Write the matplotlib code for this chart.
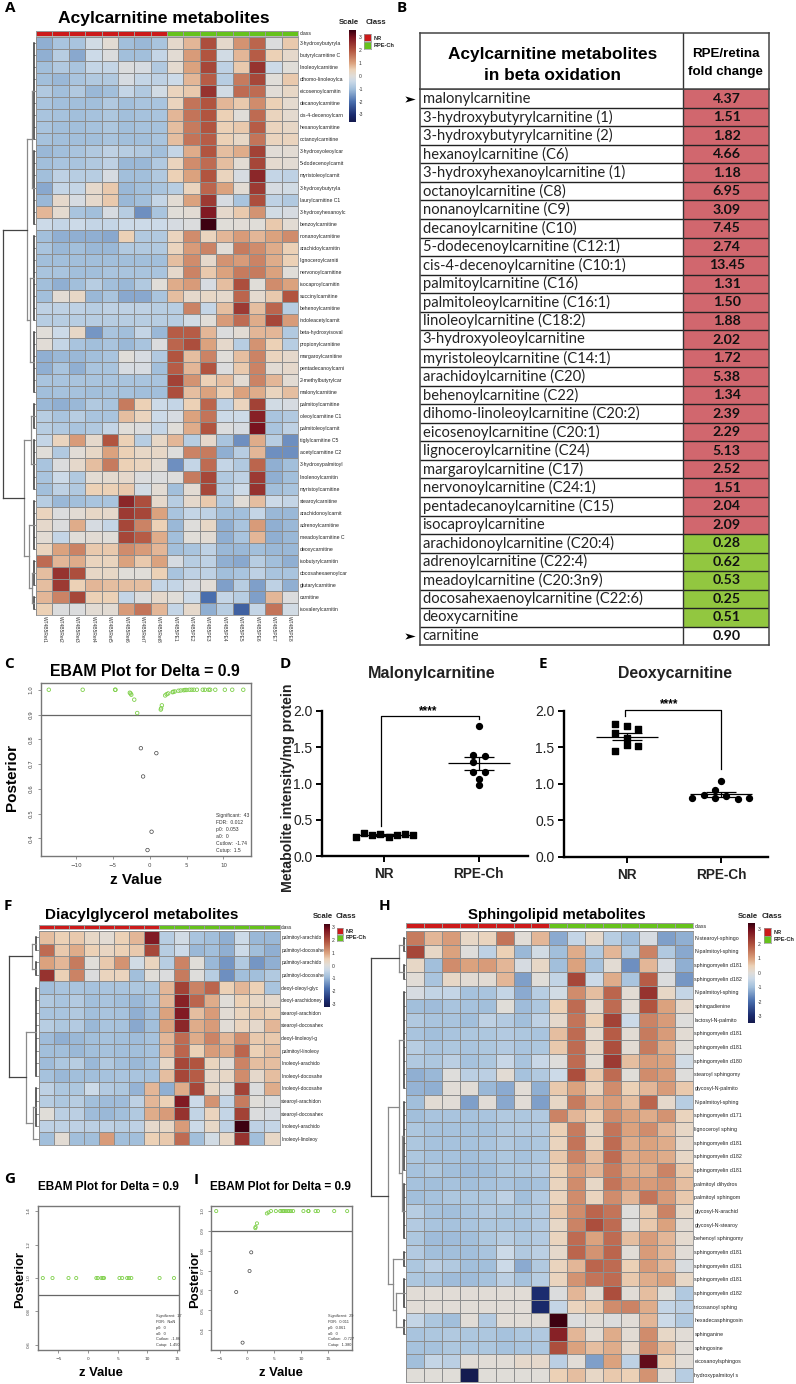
import numpy as np
import matplotlib
matplotlib.use("Agg")
import matplotlib.pyplot as plt
from matplotlib.colors import LinearSegmentedColormap, ListedColormap

W, H = 796, 1384
ARIAL = "Liberation Sans"
OPEN = "Open Sans"

# ---- panel A
acyl_labels = ["3-hydroxybutyryla", "butyrylcarnitine C", "linoleoylcarnitine", "dihomo-linoleoylca",
    "eicosenoylcarnitin", "decanoylcarnitine", "cis-4-decenoylcarn", "hexanoylcarnitine", "octanoylcarnitine",
    "3-hydroxyoleoylcar", "5-dodecenoylcarnit", "myristoleoylcarnit", "3-hydroxybutyryla", "laurylcarnitine C1",
    "3-hydroxyhexanoylc", "benzoylcarnitine", "nonanoylcarnitine", "arachidoylcarnitin", "lignoceroylcarniti",
    "nervonoylcarnitine", "isocaproylcarnitin", "succinylcarnitine", "behenoylcarnitine", "indoleacetylcarnit",
    "beta-hydroxyisoval", "propionylcarnitine", "margaroylcarnitine", "pentadecanoylcarni", "2-methylbutyrylcar",
    "malonylcarnitine", "palmitoylcarnitine", "oleoylcarnitine C1", "palmitoleoylcarnit", "tiglylcarnitine C5",
    "acetylcarnitine C2", "3-hydroxypalmitoyl", "linolenoylcarnitin", "myristoylcarnitine", "stearoylcarnitine",
    "arachidonoylcarnit", "adrenoylcarnitine", "meadoylcarnitine C", "deoxycarnitine", "isobutyrylcarnitin",
    "docosahexaenoylcar", "glutarylcarnitine", "carnitine", "isovalerylcarnitin"]
acyl_samples = ["WT4B5Ret1", "WT4B5Ret2", "WT4B5Ret3", "WT4B5Ret4", "WT4B5Ret5", "WT4B5Ret6", "WT4B5Ret7", "WT4B5Ret8",
    "WT4B5PE1", "WT4B5PE2", "WT4B5PE3", "WT4B5PE4", "WT4B5PE5", "WT4B5PE6", "WT4B5PE7", "WT4B5PE8"]
acyl_z = [
    [-1.2, -.9, -.9, -.3, .1, -1, -1.1, -.9, .2, .8, 2.1, .2, 1.2, 1.8, -.1, .6],
    [-1.2, -.7, -1.3, -.4, -.1, -1, -1, -.5, .1, 1.1, 2, -.3, .8, 1.9, .5, .2],
    [-1, -.8, -.9, -.5, -.5, -.1, -.2, -.8, .15, 1, 2.2, -.6, .6, 2.5, -.4, 0],
    [-1, -1.1, -.9, -.8, -.8, -.2, -.5, -.6, -.4, .8, 1.9, -.7, 1.5, 2.2, 0, .6],
    [-.8, -1, -.8, -1.1, -1, -.5, -.8, -.3, .4, .6, 2.5, -.3, 1.7, 1.7, .05, .3],
    [-.9, -1, -1, -1, -.8, -1, -.9, -.9, .4, 1.6, 2, .8, .6, 1.3, .5, .15],
    [-.9, -.95, -1, -.95, -.85, -1, -.95, -.9, .8, 1.6, 2, .5, 0, 1.7, .4, .15],
    [-.9, -1, -1, -.95, -.85, -1, -.95, -.95, .7, 1.5, 2, .5, .6, 1.9, .4, .3],
    [-.95, -1, -1, -1, -.9, -1, -1, -.9, .7, 1.6, 1.9, .5, .3, 1.6, .4, .4],
    [-1.1, -1, -.9, -.8, -.6, -.7, -.8, -1, -.5, .9, 2, .7, .9, 2.3, .05, .1],
    [-1, -.9, -.9, -.8, -.6, -1.1, -1.1, -.8, .4, 1.3, 1.7, .7, .1, 2.2, .15, .1],
    [-1, -.6, -.7, -.7, -.2, -1, -1, -.8, .5, 1, 2, .4, -.2, 2.7, -.5, -.6],
    [-1.3, -.5, -.5, .2, .6, -1.1, -1, -.9, -.7, .4, 1.8, 1, .1, 2.4, -.2, -.3],
    [-1.1, .2, -.2, .2, .6, -1.1, -1, -.5, .1, 1, 2.4, -.2, -.9, 2.1, -.6, -.8],
    [.8, .15, -.9, -1, -.2, -.7, -1.6, -.9, 0, .1, 2.9, .2, .6, 1.2, -.3, -.2],
    [-.4, -.5, -.4, -.5, -.5, -.4, -.4, -.4, -.2, -.1, 3.5, 0, .05, 0, .6, .1],
    [-1, -1.2, -1.2, -1.2, -1.3, .5, -.8, -.8, .4, 1.3, .4, .8, 1.1, .8, 1, 1.3],
    [-.9, -1.1, -1, -1.1, -1.1, -.8, -.8, -.8, .4, 1.1, 1.4, .05, 1.5, 1.3, .9, .5],
    [-1, -1, -1, -1, -1, -1, -1, -1, .7, 1.3, .2, 1.2, 1.1, 1.4, .9, .5],
    [-.9, -.9, -1, -1, -.9, -.9, -.9, -.9, .2, 1.4, .6, 1, 1.5, 1.5, 1, 0],
    [-1, -1.2, -1, -.7, -1, -1.1, -.8, 0, .9, 1.1, -.2, .7, 2.1, 0, 1.3, 1],
    [-1, .1, .3, -1.1, -.9, -1.3, -1.3, -.9, .7, .2, .3, .2, 1.8, .15, .6, 2],
    [-.6, -.6, -.6, -.7, -.6, -.6, -.6, -.7, -.7, 1.4, -.5, .7, 2.4, .7, 1.8, -.7],
    [-.7, -.7, -.7, -.7, -.7, -.7, -.7, -.7, -.7, -.3, 0, 1.1, 1.7, .9, 2.2, 1.1],
    [0, -.4, .3, -1.5, -.9, -1, -.5, -1.1, 1.9, 1.9, .8, -.1, .1, .8, .8, -.8],
    [.05, -.5, -.9, -1, -.9, -1.1, -.9, -.1, 1.8, 2.1, 1, .2, -.7, 1.2, .5, -.7],
    [-1.2, -1.1, -1.1, -1, -.9, 0, -.2, -.8, 2, .7, 1.4, 0, .7, 1.4, .4, .2],
    [-1.2, -.9, -1.2, -.9, -.9, -.2, -.2, -1, 1.9, .8, 2, -.1, .6, 1.4, .1, .2],
    [-.9, -.9, -.9, -.9, -.9, -.9, -.9, -.9, 2.3, 1.2, .5, .7, .1, 1.4, .8, .1],
    [-1, -.95, -.95, -1, -.95, -.95, -1, -1, 2.1, .7, 1, .5, 1, .9, .4, .7],
    [-1.1, -1.2, -1.1, -.8, -.9, 1.5, .5, -.4, -.5, .5, 1.8, -.6, .4, 2.3, -.3, -.2],
    [-.7, -.9, -.7, -.9, -.9, .7, .4, -.4, -.2, 1, 1.6, -.4, -.4, 2.8, -.9, -.8],
    [-.7, -.8, -.9, -.8, -.5, 0, -.1, -.5, 0, .9, 2, -.1, -.2, 3, -.9, -.6],
    [-.5, .4, 1.1, .2, 2, .5, -.7, .3, .8, -.7, .2, -.9, -1.6, .9, -.7, -1.6],
    [0, -.8, .05, .3, 1, .5, .3, .3, -.05, 1.4, 1.5, -1.2, -.7, .8, -1.6, -1.6],
    [-.9, -.1, .2, .7, 1.5, .5, .4, .1, -1.6, -.5, 1.7, -.5, -.8, 1.8, -1.2, -1],
    [-.9, -.4, -.8, .1, .15, .2, -.1, -.1, -.05, 1.5, 2.2, -.8, -.6, 2.4, -1.2, -1],
    [-1, -.6, -.8, .5, .5, .6, -.3, .1, -1, .1, 2.2, -.7, -.4, 2.5, -1, -.9],
    [-.7, -1.1, -1, -.9, -.9, 2.7, 2.1, .2, -.7, .2, .6, -.8, .05, .7, -.4, -.5],
    [.4, -.1, .1, .3, .2, 2.4, 2.2, 1, -.9, -.5, -.6, -1, -1, -.5, -1.1, -1.1],
    [.2, -.1, .9, -.2, -.5, 2.2, 1.4, .5, -1.1, -.05, .3, -1.2, -.9, 1.1, -1.2, -1.1],
    [.1, -.5, 0, .1, 0, 2.2, 1.9, .9, -1, 0, .1, -1.2, -.9, .8, -1.2, -1.1],
    [.4, 1, 1.4, .6, .6, 1.3, 1.1, .8, -1, -.9, -.6, -1.1, -1.1, -1, -1.1, -1.1],
    [1.7, .8, .9, .4, .4, 1, .6, 1, -.2, -.7, -.6, -1.2, -1.3, -.7, -1, -1.2],
    [.7, 2.5, 2.1, .3, .3, 0, 0, .5, -.9, -.6, -.6, -1, -.9, -.6, -.9, -.9],
    [.7, 2.4, .5, .8, .7, .7, .7, -.5, -.5, -.2, .05, -1.4, -.7, -1.4, -.6, -1.2],
    [.8, 1.4, 2.2, .5, .5, -.5, -.1, .2, 0, -.4, -2, -.5, -.7, -1.4, .8, -.1],
    [.5, -.1, -.1, .1, .1, 1.1, 1.6, .8, -.5, .2, -1.2, -.7, -2.2, -.5, 1.6, -.3],
]

# ---- panel F
dag_labels = ["palmitoyl-arachido", "palmitoyl-docosahe", "palmitoyl-arachido", "palmitoyl-docosahe",
    "oleoyl-oleoyl-glyc", "oleoyl-arachidoney", "stearoyl-arachidon", "stearoyl-docosahex", "oleoyl-linoleoyl-g",
    "palmitoyl-linoleoy", "linoleoyl-arachido", "linoleoyl-docosahe", "linoleoyl-docosahe", "stearoyl-arachidon",
    "stearoyl-docosahex", "linoleoyl-arachido", "linoleoyl-linoleoy"]
dag_z = [
    [.7, .5, .6, .3, .1, .5, .8, 2.9, -.7, -.3, -.9, -1, -1.2, -.4, -1.1, -1.1],
    [1.7, .6, .9, .5, .35, .5, .6, 2.2, -.7, -.4, -1.1, -1, -1.2, -.4, -1, -1.2],
    [1, .8, 1.5, 0, .6, 1.2, -.3, .4, -.7, 1.4, 0, -1.1, -1.5, -.8, -1.5, -1.2],
    [2.5, .5, 1.4, -.1, .4, .4, -1, 0, -.1, 1.5, -.05, -.7, -1.6, -1, -1, -.8],
    [-1, -.9, -.9, -.95, -.9, -.9, -.85, -.85, .8, 2.3, 1.4, 1.8, .5, .8, .5, -.9],
    [-.8, -.9, -.75, -1, -.9, -1, -1.1, -.9, .8, 2.8, 1.8, .9, 0, .5, .3, .2],
    [-.9, -.9, -.8, -1, -.9, -.95, -1.2, -1, 1, 2.9, .7, 1.1, .1, .4, .6, .5],
    [-.7, -.85, -.75, -1.1, -.9, -.95, -1.3, -1, 1, 2.7, .9, 1.1, .05, .4, .2, .8],
    [-1.05, -1.2, -1.1, -1, -.95, -1, -1.05, -.95, .8, 1.7, .9, 1.4, .8, 1.3, .6, .6],
    [-1, -1, -1.1, -1, -.95, -1, -1, -.95, .8, 1.8, .5, 1.1, .9, 1.8, .5, .7],
    [-1.05, -.85, -.7, -1.1, -.8, -1, -1.1, -.95, .3, 2.2, 2, .4, .05, 1.4, .7, .7],
    [-.95, -1.1, -1, -1, -.95, -.9, -.9, -.95, .7, 2.2, 1.9, .2, .3, 1.3, .2, .7],
    [-.6, -.85, -.85, -.4, -.75, -.85, -1.15, .8, -1.2, .9, 2.2, .3, -.1, 2.3, -.1, .9],
    [-.7, -.85, -.7, -1, -1.05, -1.05, -.6, .8, .5, 2.9, -.4, 1.2, -.5, 1.5, 0, -.1],
    [0, -.65, -.65, -1.05, -1.1, -1, -.8, .9, 1.1, 2.5, -.55, .4, -.5, 2.3, -.1, -.2],
    [-.6, -.6, -.6, -.65, -.6, -.7, -.6, .2, .3, 1.1, -.4, .3, -.6, 3.5, -.6, -.5],
    [-1, .1, -1, -1, 1.1, -1, -1, .5, .6, 1.7, -1, -.3, .3, 2.5, -1, .3],
]

# ---- panel H
sph_labels = ["N-stearoyl-sphingo", "N-palmitoyl-sphing", "sphingomyelin d181", "sphingomyelin d182", "N-palmitoyl-sphing",
    "sphingadienine", "lactosyl-N-palmito", "sphingomyelin d181", "sphingomyelin d181", "sphingomyelin d180",
    "stearoyl sphingomy", "glycosyl-N-palmito", "N-palmitoyl-sphing", "sphingomyelin d171", "lignoceroyl sphing",
    "sphingomyelin d181", "sphingomyelin d182", "sphingomyelin d181", "palmitoyl dihydros", "palmitoyl sphingom",
    "glycosyl-N-arachid", "glycosyl-N-stearoy", "behenoyl sphingomy", "sphingomyelin d181", "sphingomyelin d181",
    "sphingomyelin d181", "sphingomyelin d182", "tricosanoyl sphing", "hexadecasphingosin", "sphinganine",
    "sphingosine", "eicosanoylsphingos", "hydroxypalmitoyl s"]
sph_z = [
    [1.5, .8, 1.1, .3, .4, 1.6, .05, .8, -1.25, -.5, .2, -.7, -1.05, -.2, -1.4, -1.2],
    [2.2, .3, 1, -.05, -.6, .5, -1.1, -.3, -1, .9, -.8, .8, -.8, 1.4, -.8, -1.3],
    [.3, -1, 1.3, 1, 1.1, .8, -.2, .3, -1, 1, -.95, .1, -1.6, .8, -.2, -1.2],
    [.05, -.9, .3, .1, .1, .8, -1.4, 0, -.55, 2.2, -.4, .9, -.9, 1.9, -.1, -1.5],
    [-.2, -.55, -.5, -.95, -.9, -.5, -1.25, -.7, -.3, 1.3, .7, 1.8, .1, 2.5, .3, -.5],
    [-1, -1.05, -.9, -.95, -1, 0, -1.05, -.85, .5, 1.7, .15, 1.7, .1, 2, 1, .2],
    [-.8, -.9, -.9, -1, -.6, -.75, -1, -.6, .2, 1.6, .5, 2.3, -.4, 1.4, 1.1, -.05],
    [-.9, -1, -.9, -.85, -.85, -.75, -.85, -.9, .7, 1.7, .15, 1.9, .1, 1.5, 1.1, .1],
    [-.7, -.9, -.85, -.9, -.85, -.75, -.9, -.85, .6, 1.7, .3, 2.1, .1, 1.5, .9, 0],
    [-.8, -.85, -.65, -.95, -.85, -.45, -.9, -.45, -.05, 1.7, .1, 2.4, .7, 1.1, 1, -.3],
    [-1.2, -1.1, -.05, -.65, -.65, .1, -.95, -.8, -.4, 2.1, .6, 1.7, 0, 1.3, 1.1, -.05],
    [-1.15, -1.2, .05, .05, -1.1, -1.25, .05, -1.2, .6, 1, .4, 1.3, .5, .8, 1.1, .6],
    [-1, .1, .05, -1.4, .05, -1.3, .05, -1.4, .3, 1.5, .8, 1.1, .7, 1.8, .2, -.7],
    [-1, -.9, -.9, -.95, -.9, -.8, -.85, -.8, 1.4, .8, .5, 1.3, 1, .9, 1.2, .4],
    [-.85, -.95, -.95, -.95, -.95, -.8, -.8, -.8, .5, 1.5, .3, 1.6, 1, 1.3, .8, .3],
    [-.85, -.95, -.95, -.95, -.9, -.8, -.9, -.85, .4, 1.6, .4, 1.7, .9, 1, .9, .2],
    [-.85, -.95, -.95, -1, -.95, -.85, -.95, -.85, .6, 1.4, .7, 1.7, .9, 1, .9, .3],
    [-.95, -.85, -1, -1.05, -1, -.85, -.85, -.75, .5, 1.1, .8, 1.5, .9, .9, 1.4, .6],
    [-.95, -1, -.95, -1, -.95, -.9, -1, -.95, .4, 1.3, .3, 1.6, 1.1, 1.1, 1.2, .7],
    [-1, -.95, -.85, -.85, -.85, -.6, -1, -.75, .4, 1.3, .4, 1.3, .8, 1.6, 1.1, .6],
    [-.7, -.95, -1, -.9, -.75, -.85, -.85, -.75, .6, 1.3, 1.8, 1.6, -.05, .6, 1.4, .3],
    [-.75, -.9, -.95, -.9, -.85, -.85, -.9, -.75, .3, 1.4, 2.1, 1.7, -.05, .6, 1, .1],
    [-.85, -1.05, -1.05, -1, -.85, -.7, -.85, -.75, .4, 1.7, 1, 1.7, .7, 1.1, .8, .15],
    [-.75, -1, -1, -1, -.9, -.4, -.8, -.65, .2, 1.8, 1.2, 1.8, .05, 1.1, .8, .05],
    [-.85, -.65, -.8, -1, -1, -.4, -1.25, -.8, .4, .8, 1.8, 1.7, .5, 1.1, .8, -.15],
    [-.85, -.9, -1.05, -1.05, -.95, -.65, -.95, -.7, .4, 1.2, 1.6, 1.7, .6, .9, 1, .3],
    [.05, .05, .05, .05, .05, .05, .05, -3, -.1, .8, .1, 2.1, .05, .7, 0, -.8],
    [.05, .05, .05, .05, .05, .05, .05, -3.1, -.5, .4, .6, 1.3, 1.4, .9, -.5, -.65],
    [-.5, -.85, -1, .05, -.75, .05, .05, .05, 3.5, -.1, .05, -.1, .05, .8, -.4, -.8],
    [-.9, -.85, -.8, -.85, -.85, -.95, -.85, -.8, 2.8, .8, .1, .9, .1, 1.3, .3, .05],
    [-.95, -.95, -.85, -.85, -.85, -.95, -.9, -.85, 2.1, 1, .7, .9, .2, 1.3, .7, .05],
    [-1, -.5, -.65, .05, .05, .05, .2, .2, -.65, .05, -1.4, 1, -.6, 3.2, .5, .05],
    [0, 0, 0, -3.5, 0, 0, 0, 0, .5, .7, .3, .6, .5, 1.2, .1, -.7],
]

# dendrograms: [x of the join in pixels, child, child], an int is a clump of leaves
acyl_tree = [3.5, [27, [32, 9, 7], [30, [33, 8, 0], [33, 6, 0]]], [24, [31.5, 3, 5], [29, [33, 5, 0], [32, 3, 2]]]]
dag_tree = [9, [32, 2, 2], [26, [34.5, 8, 0], [33, 4, 1]]]
sph_tree = [371, [399, 2, 2], [387.7, [399, [402, 8, 0], [402, 6, 5]], [392.7, 2, [396, 3, 2]]]]

# ---- panel B
table_names = ["malonylcarnitine", "3-hydroxybutyrylcarnitine (1)", "3-hydroxybutyrylcarnitine (2)", "hexanoylcarnitine (C6)",
    "3-hydroxyhexanoylcarnitine (1)", "octanoylcarnitine (C8)", "nonanoylcarnitine (C9)", "decanoylcarnitine (C10)",
    "5-dodecenoylcarnitine (C12:1)", "cis-4-decenoylcarnitine (C10:1)", "palmitoylcarnitine (C16)",
    "palmitoleoylcarnitine (C16:1)", "linoleoylcarnitine (C18:2)", "3-hydroxyoleoylcarnitine", "myristoleoylcarnitine (C14:1)",
    "arachidoylcarnitine (C20)", "behenoylcarnitine (C22)", "dihomo-linoleoylcarnitine (C20:2)", "eicosenoylcarnitine (C20:1)",
    "lignoceroylcarnitine (C24)", "margaroylcarnitine (C17)", "nervonoylcarnitine (C24:1)", "pentadecanoylcarnitine (C15)",
    "isocaproylcarnitine", "arachidonoylcarnitine (C20:4)", "adrenoylcarnitine (C22:4)", "meadoylcarnitine (C20:3n9)",
    "docosahexaenoylcarnitine (C22:6)", "deoxycarnitine", "carnitine"]
table_fold = ["4.37", "1.51", "1.82", "4.66", "1.18", "6.95", "3.09", "7.45", "2.74", "13.45", "1.31", "1.50", "1.88", "2.02",
    "1.72", "5.38", "1.34", "2.39", "2.29", "5.13", "2.52", "1.51", "2.04", "2.09", "0.28", "0.62", "0.53", "0.25", "0.51", "0.90"]
table_arrows = [0, 29]

# ---- EBAM panels
c_green_x = [-13.7, -9.1, -4.7, -4.65, -2.7, -2.6, -2.5, -2.1, -1.7, 1.5, 1.55, 1.65, 2.1, 2.3, 2.5, 3.1, 3.2, 3.4, 3.9, 4.2,
    4.6, 4.8, 5, 5.4, 5.7, 6, 6.4, 7.2, 7.5, 8, 8.2, 8.9, 10.2, 11.2, 12.7]
c_green_y = [1, 1, 1, 1, .988, .985, .98, .96, .906, .92, .925, .937, .977, .982, .985, .99, .992, .993, .996, .997,
    .998, .999, .999, 1, 1, 1, 1, 1, 1, 1, 1, 1, 1, 1, 1]
c_black_x = [-1.2, .9, -.9, .25, -.3]
c_black_y = [.764, .744, .65, .427, .353]
c_stats = ["Significant:  43", "FDR:  0.012", "p0:  0.053", "a0:  0", "Cutlow:  -1.74", "Cutup:  1.5"]

g_green_x = [-7.64, -6, -3.3, -2, 1.4, 1.65, 2.27, 2.5, 2.7, 5.3, 5.76, 6.6, 6.9, 7.3, 12.07, 14.5]
g_green_y = [1] * 16
g_black_x = []
g_black_y = []
g_stats = ["Significant:  17", "FDR:  NaN", "p0:  0", "a0:  0", "Cutlow:  -1.86", "Cutup:  1.450"]

i_green_x = [-5.74, 1.5, 1.55, 1.8, 3.64, 3.95, 4.4, 5.3, 6.1, 6.36, 6.67, 6.85, 7.16, 7.5, 7.8, 8.1, 8.5, 10.4, 11.3, 11.35,
    12.65, 13.1, 16.1, 18.5]
i_green_y = [1, .914, .92, .938, .988, .993, 1, 1, 1, 1, 1, 1, 1, 1, 1, 1, 1, 1, 1, 1, 1, 1, 1, 1]
i_black_x = [.74, .43, -2.04, -.86]
i_black_y = [.792, .698, .592, .337]
i_stats = ["Significant:  29", "FDR:  0.011", "p0:  0.061", "a0:  0", "Cutlow:  -0.727", "Cutup:  1.380"]

# ---- scatter panels D, E (x is an offset from the group position)
d_nr_off = [-.30, -.215, -.127, -.042, .046, .131, .219, .30]
d_nr_y = [.27, .325, .288, .307, .26, .29, .30, .29]
d_rpe_off = [0, -.06, .064, -.06, -.06, .064, 0, 0]
d_rpe_y = [1.786, 1.387, 1.373, 1.30, 1.16, 1.16, 1.066, .983]
d_means = [.29, 1.277]
d_err = [.012, .089]

e_nr_off = [-.124, 0, -.124, .124, 0, 0, .124, -.124]
e_nr_y = [1.82, 1.80, 1.70, 1.75, 1.625, 1.534, 1.516, 1.457]
e_rpe_off = [-.004, -.064, -.184, -.304, -.064, .056, .177, .297]
e_rpe_y = [1.045, .918, .845, .804, .804, .836, .79, .813]
e_means = [1.65, .858]
e_err = [.05, .03]

z_nodes = [-3.55, -3, -2, -1, -.4, 0, .5, 1, 2, 3, 3.55]
z_colors = ["#141a4e", "#1c2d70", "#4a6fae", "#a3c0dc", "#ccdae8", "#e0ddd9", "#ecd2b8", "#dca37f", "#b25540", "#7c1420", "#3a0010"]
cmap = LinearSegmentedColormap.from_list("scale", [((v + 3.55) / 7.1, c) for v, c in zip(z_nodes, z_colors)])
GREEN = "#66c21c"
RED = "#cc1a1a"

fig = plt.figure(figsize=(W / 100, H / 100), dpi=100)
fig.patch.set_facecolor("white")


def pax(l, t, r, b):
    return fig.add_axes([l / W, 1 - b / H, (r - l) / W, (b - t) / H])


def txt(x, y, s, size=8, weight="normal", family=ARIAL, ha="center", va="center", color="black", rotation=0):
    fig.text(x / W, 1 - y / H, s, fontsize=size, fontweight=weight, family=family, ha=ha, va=va, color=color, rotation=rotation)


def draw_tree(ax, node, rows, right):
    # returns (x, y) of the node, rows is a one item list used as a counter
    if isinstance(node, int):
        top = rows[0]
        rows[0] += node
        y = top + node / 2
        if node == 0:
            return None
        x0 = right - 2.2
        for i in range(node):
            ax.plot([x0, right], [top + i + .5, top + i + .5], color="#666666", lw=.5)
        if node > 1:
            ax.plot([x0, x0], [top + .5, top + node - .5], color="#333333", lw=1.1)
        return x0, y
    kids = [draw_tree(ax, k, rows, right) for k in node[1:]]
    kids = [k for k in kids if k is not None]
    if len(kids) == 1:
        return kids[0]
    x = node[0]
    shade = "#444444" if x < right - 20 else "#8a8a8a"
    ax.plot([x, x], [kids[0][1], kids[1][1]], color=shade, lw=.9)
    for kx, ky in kids:
        ax.plot([x, kx], [ky, ky], color=shade, lw=.9)
    return x, (kids[0][1] + kids[1][1]) / 2


def heatmap(z, labels, box, class_box, tree, tree_left, cbar, legend, label_size):
    l, t, r, b = box
    ax = pax(l, t, r, b)
    ax.pcolormesh(np.array(z), cmap=cmap, vmin=-3.55, vmax=3.55, edgecolors="#8e8e8e", linewidth=.6)
    ax.set_ylim(len(z), 0)
    ax.set_xticks([])
    ax.yaxis.tick_right()
    ax.set_yticks(np.arange(len(z)) + .5)
    ax.set_yticklabels(labels, fontsize=label_size, family=ARIAL, color="#222222")
    ax.tick_params(axis="y", length=0, pad=1.2)
    for s in ax.spines.values():
        s.set_color("#8e8e8e")
        s.set_linewidth(.6)

    cax = pax(l, class_box[0], r, class_box[1])
    cax.pcolormesh(np.array([[0] * 8 + [1] * 8]), cmap=ListedColormap([RED, GREEN]), edgecolors="#999999", linewidth=.5)
    cax.set_xticks([])
    cax.yaxis.tick_right()
    cax.set_yticks([.5])
    cax.set_yticklabels(["class"], fontsize=label_size, family=ARIAL, color="#222222")
    cax.tick_params(axis="y", length=0, pad=1.2)
    for s in cax.spines.values():
        s.set_color("#999999")
        s.set_linewidth(.5)

    dax = pax(tree_left, t, l, b)
    dax.set_xlim(tree_left, l)
    dax.set_ylim(len(z), 0)
    dax.axis("off")
    draw_tree(dax, tree, [0], l)

    # colour key
    cl, ct, cr, cb, zero, step, tick_x = cbar
    kax = pax(cl, ct, cr, cb)
    grad = np.linspace(3.55, -3.55, 200).reshape(-1, 1)
    kax.imshow(grad, cmap=cmap, vmin=-3.55, vmax=3.55, aspect="auto", extent=[0, 1, -3.55, 3.55])
    kax.axis("off")
    for v in [3, 2, 1, 0, -1, -2, -3]:
        txt(tick_x, zero - v * step, str(v), size=3.6, color="#333333", ha="left")
    sx, sy1, sy2, sy3, sw = legend
    for i, (name, col) in enumerate([("NR", RED), ("RPE-Ch", GREEN)]):
        top = [sy1, sy2][i]
        sax = pax(sx, top, sx + sw, top + (sy2 - sy1) - .4)
        sax.set_facecolor(col)
        sax.set_xticks([])
        sax.set_yticks([])
        for s in sax.spines.values():
            s.set_color("#999999")
            s.set_linewidth(.5)
        txt(sx + sw + 2.5, top + (sy2 - sy1) / 2, name, size=4.1, weight="bold", ha="left", color="#222222")


heatmap(acyl_z, acyl_labels, (36, 37, 298, 615), (30.5, 35.5), acyl_tree, 2, (349.3, 30, 355.7, 121.7, 76.1, 12.95, 358.5),
        (363.7, 34.3, 41.7, 49, 7.3), 3.7)
heatmap(dag_z, dag_labels, (38.5, 931, 279.5, 1145), (924.7, 929.3), dag_tree, 7, (323.7, 924, 329.3, 1007.3, 966, 12.67, 331.8),
        (336.7, 928.3, 934.7, 941, 6), 3.5)
heatmap(sph_z, sph_labels, (406, 931, 692.7, 1381.7), (923.3, 928), sph_tree, 369, (748.3, 923.3, 755, 1023.3, 973.2, 14.6, 758),
        (763.7, 928.3, 936, 943.3, 7.3), 3.8)

for i, s in enumerate(acyl_samples):
    txt(36 + (i + .5) * 262 / 16, 629, s, size=3.5, rotation=-90, color="#333333")

txt(164, 19, "Acylcarnitine metabolites", size=12.6, weight="bold")
txt(142, 915, "Diacylglycerol metabolites", size=11, weight="bold")
txt(557, 915, "Sphingolipid metabolites", size=10.8, weight="bold")
for x, y, s in [(349, 23, "Scale"), (375.7, 23, "Class"), (323, 916, "Scale"), (345.7, 916, "Class"), (748, 917, "Scale"), (772.3, 917, "Class")]:
    txt(x, y, s, size=5.6, weight="bold", color="#222222")

# table
tab = pax(420, 89.3, 769, 645.3)
n_rows = len(table_names)
split = (683.3 - 420) / (769 - 420)
for i in range(n_rows):
    if i < 24:
        cell = "#d1676e"
    elif i < 29:
        cell = "#92c740"
    else:
        cell = "white"
    tab.barh(i + .5, 1 - split, left=split, height=1, color=cell, edgecolor="none")
tab.set_xlim(0, 1)
tab.set_ylim(n_rows, 0)
tab.hlines(np.arange(1, n_rows), 0, 1, color="#222222", lw=1)
tab.vlines([split], 0, n_rows, color="#333333", lw=1)
tab.set_xticks([])
tab.set_yticks([])
for s in tab.spines.values():
    s.set_color("#444444")
    s.set_linewidth(1.1)
for i, (name, val) in enumerate(zip(table_names, table_fold)):
    tab.text(.0075, i + .5, name, fontsize=10.6, family="Lato", va="center", ha="left", color="#222222")
    tab.text((726.7 - 420) / 349, i + .5, val, fontsize=10.2, family="Lato", weight="bold", va="center", ha="center", color="#111111")
arrow = [(-1, .6), (1, 0), (-1, -.6), (-.5, 0)]
tab.scatter([-.03] * len(table_arrows), np.array(table_arrows) + .5, marker=arrow, s=55, color="black", clip_on=False, linewidths=0)

head = pax(420, 33.3, 769, 89.3)
head.set_xticks([])
head.set_yticks([])
head.axvline(split, color="#333333", lw=1)
for s in head.spines.values():
    s.set_color("#444444")
    s.set_linewidth(1.1)
txt(553, 54, "Acylcarnitine metabolites", size=12.4, weight="bold")
txt(553, 75, "in beta oxidation", size=12.4, weight="bold")
txt(725.7, 54, "RPE/retina", size=9.6, weight="bold")
txt(725.7, 72, "fold change", size=9.6, weight="bold")


def ebam(box, xlim, ylim, xticks, yticks, gx, gy, kx, ky, stats, stat_x, stat_y, stat_step, fs):
    ax = pax(*box)
    ax.scatter(gx, gy, s=fs * 1.6, facecolors="none", edgecolors="#7fd04a", linewidths=.6, zorder=3)
    if kx:
        ax.scatter(kx, ky, s=fs * 1.6, facecolors="none", edgecolors="#444444", linewidths=.5, zorder=3)
    ax.axhline(.9, color="#666666", lw=.9)
    ax.set_xlim(xlim)
    ax.set_ylim(ylim)
    ax.set_xticks(xticks)
    ax.set_yticks(yticks)
    ax.set_yticklabels(["%.1f" % v for v in yticks], rotation=90, va="center")
    ax.tick_params(labelsize=fs, length=2, width=.4, colors="#444444", pad=3)
    for s in ax.spines.values():
        s.set_color("#777777")
        s.set_linewidth(1)
    for i, s in enumerate(stats):
        txt(stat_x, stat_y + i * stat_step, s, size=fs - .4, ha="left", color="#333333")


ebam((40.7, 683.3, 251, 856), (-14.8, 13.75), (.329, 1.026), [-10, -5, 0, 5, 10], [.4, .5, .6, .7, .8, .9, 1.0],
     c_green_x, c_green_y, c_black_x, c_black_y, c_stats, 216.5, 815.5, 7, 4)
ebam((37.7, 1205.7, 179.3, 1350), (-8.5, 15.4), (.57, 1.432), [-5, 0, 5, 10, 15], [.6, .8, 1.0, 1.2, 1.4],
     g_green_x, g_green_y, g_black_x, g_black_y, g_stats, 156, 1316, 5.85, 3.2)
ebam((211.3, 1205.7, 352.3, 1350), (-6.65, 19.45), (.3, 1.027), [-5, 0, 5, 10, 15], [.4, .5, .6, .7, .8, .9, 1.0],
     i_green_x, i_green_y, i_black_x, i_black_y, i_stats, 328.5, 1316, 5.85, 3.2)

txt(144.5, 671.5, "EBAM Plot for Delta = 0.9", size=11.4, weight="bold")
txt(108, 1187.5, "EBAM Plot for Delta = 0.9", size=8.5, weight="bold")
txt(280, 1187.5, "EBAM Plot for Delta = 0.9", size=8.5, weight="bold")
txt(135.7, 880, "z Value", size=11, weight="bold")
txt(101, 1373, "z Value", size=9.4, weight="bold")
txt(281, 1373, "z Value", size=9.4, weight="bold")
txt(12.3, 777.7, "Posterior", size=11, weight="bold", rotation=90)
txt(20, 1280, "Posterior", size=9.4, weight="bold", rotation=90)
txt(195, 1280, "Posterior", size=9.4, weight="bold", rotation=90)


def dots(box, xlim, nr_off, nr_y, rpe_off, rpe_y, means, errs, bracket, star):
    ax = pax(*box)
    ax.scatter(1 + np.array(nr_off), nr_y, marker="s", s=16, color="black", zorder=3, clip_on=False)
    ax.scatter(2 + np.array(rpe_off), rpe_y, marker="o", s=18, color="black", zorder=3)
    for x, m, e in zip([1, 2], means, errs):
        ax.hlines(m, x - .33, x + .33, color="black", lw=.9, zorder=4)
        ax.errorbar(x, m, yerr=e, color="black", lw=.9, capsize=11, capthick=.9, zorder=4)
    ax.plot(bracket[0], bracket[1], color="black", lw=.9, clip_on=False)
    ax.text(star[0], star[1], "****", fontsize=8.5, weight="bold", family=ARIAL, ha="center", va="center")
    ax.set_xlim(xlim)
    ax.set_ylim(0, 2)
    ax.set_xticks([1, 2])
    ax.set_xticklabels(["NR", "RPE-Ch"], fontsize=9.8, weight="bold", family=ARIAL, color="#222222")
    ax.set_yticks([0, .5, 1, 1.5, 2])
    ax.set_yticklabels(["0.0", "0.5", "1.0", "1.5", "2.0"], fontsize=10, family=ARIAL, color="#222222")
    ax.tick_params(width=1.4, length=4, pad=3)
    ax.tick_params(axis="x", pad=4)
    ax.spines["top"].set_visible(False)
    ax.spines["right"].set_visible(False)
    ax.spines["left"].set_linewidth(1.7)
    ax.spines["bottom"].set_linewidth(1.7)
    ax.patch.set_alpha(0)


dots((322.3, 710.7, 527.7, 856.3), (.343, 2.519), d_nr_off, d_nr_y, d_rpe_off, d_rpe_y, d_means, d_err,
     ([.97, .97, 2, 2], [.41, 1.93, 1.93, 1.886]), (1.46, 2.0))
dots((564, 711, 767.7, 857), (.335, 2.495), e_nr_off, e_nr_y, e_rpe_off, e_rpe_y, e_means, e_err,
     ([.98, .98, 2, 2], [1.936, 2.014, 2.014, 1.205]), (1.45, 2.09))

txt(432, 674, "Malonylcarnitine", size=11.6, weight="bold", color="#222222")
txt(675, 674, "Deoxycarnitine", size=11.4, weight="bold", color="#222222")
txt(288, 788, "Metabolite intensity/mg protein", size=10.2, weight="bold", rotation=90, color="#222222")

for x, y, s in [(10, 8, "A"), (402, 8, "B"), (9, 664, "C"), (285, 664, "D"), (543, 664, "E"), (8, 906, "F"), (385, 906, "H"),
                (10, 1179, "G"), (196, 1180, "I")]:
    txt(x, y, s, size=11, weight="bold", family=OPEN)

fig.savefig("out.png", dpi=100)
